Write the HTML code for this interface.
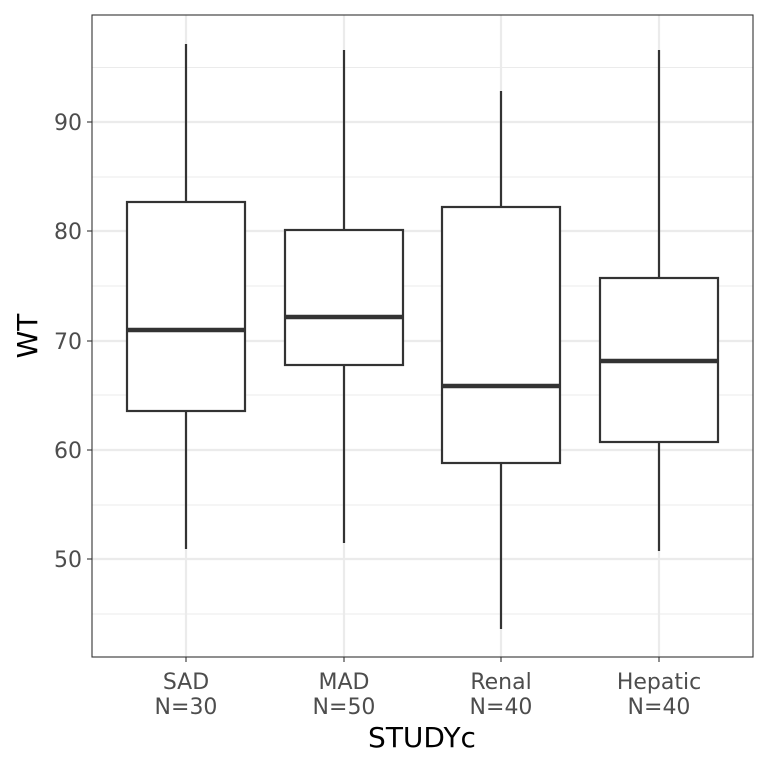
<!DOCTYPE html>
<html><head><meta charset="utf-8"><style>body{margin:0;background:#fff}svg{display:block}</style></head><body>
<svg width="768" height="768" xmlns="http://www.w3.org/2000/svg" font-family="DejaVu Sans, Liberation Sans, sans-serif">
<rect width="768" height="768" fill="#fff"/>
<g stroke="#ebebeb" stroke-width="1.1">
<line x1="92" x2="753" y1="67.5" y2="67.5"/><line x1="92" x2="753" y1="177" y2="177"/><line x1="92" x2="753" y1="286" y2="286"/><line x1="92" x2="753" y1="395" y2="395"/><line x1="92" x2="753" y1="505" y2="505"/><line x1="92" x2="753" y1="614" y2="614"/>
</g>
<g stroke="#ebebeb" stroke-width="2.2">
<line x1="92" x2="753" y1="122" y2="122"/><line x1="92" x2="753" y1="231" y2="231"/><line x1="92" x2="753" y1="341" y2="341"/><line x1="92" x2="753" y1="450" y2="450"/><line x1="92" x2="753" y1="559" y2="559"/>
<line x1="186" x2="186" y1="15" y2="657"/><line x1="344" x2="344" y1="15" y2="657"/><line x1="501" x2="501" y1="15" y2="657"/><line x1="659" x2="659" y1="15" y2="657"/>
</g>
<g stroke="#333" stroke-width="2.2" fill="#fff">
<line x1="186" x2="186" y1="44" y2="549"/><rect x="127" y="202" width="118" height="209"/><line x1="127" x2="245" y1="330" y2="330" stroke-width="4.5"/>
<line x1="344" x2="344" y1="50" y2="543"/><rect x="285" y="230" width="118" height="135"/><line x1="285" x2="403" y1="317" y2="317" stroke-width="4.5"/>
<line x1="501" x2="501" y1="91" y2="629"/><rect x="442" y="207" width="118" height="256"/><line x1="442" x2="560" y1="386" y2="386" stroke-width="4.5"/>
<line x1="659" x2="659" y1="50" y2="551"/><rect x="600" y="278" width="118" height="164"/><line x1="600" x2="718" y1="361" y2="361" stroke-width="4.5"/>
</g>
<rect x="92" y="15" width="661" height="642" fill="none" stroke="#333" stroke-width="1.1"/>
<g stroke="#333" stroke-width="1.1">
<line x1="87" x2="92" y1="122" y2="122"/><line x1="87" x2="92" y1="231" y2="231"/><line x1="87" x2="92" y1="341" y2="341"/><line x1="87" x2="92" y1="450" y2="450"/><line x1="87" x2="92" y1="559" y2="559"/>
<line x1="186" x2="186" y1="657" y2="662"/><line x1="344" x2="344" y1="657" y2="662"/><line x1="501" x2="501" y1="657" y2="662"/><line x1="659" x2="659" y1="657" y2="662"/>
</g>
<g fill="#4d4d4d" font-size="22" text-anchor="end">
<text x="82" y="130">90</text><text x="82" y="239">80</text><text x="82" y="349">70</text><text x="82" y="458">60</text><text x="82" y="567">50</text>
</g>
<g fill="#4d4d4d" font-size="22" text-anchor="middle">
<text x="186" y="689">SAD</text><text x="186" y="714">N=30</text>
<text x="344" y="689">MAD</text><text x="344" y="714">N=50</text>
<text x="501" y="689">Renal</text><text x="501" y="714">N=40</text>
<text x="659" y="689">Hepatic</text><text x="659" y="714">N=40</text>
</g>
<text x="422" y="747" font-size="28" text-anchor="middle" fill="#000">STUDYc</text>
<text transform="translate(37,336) rotate(-90)" font-size="28" text-anchor="middle" fill="#000">WT</text>
</svg>
</body></html>
